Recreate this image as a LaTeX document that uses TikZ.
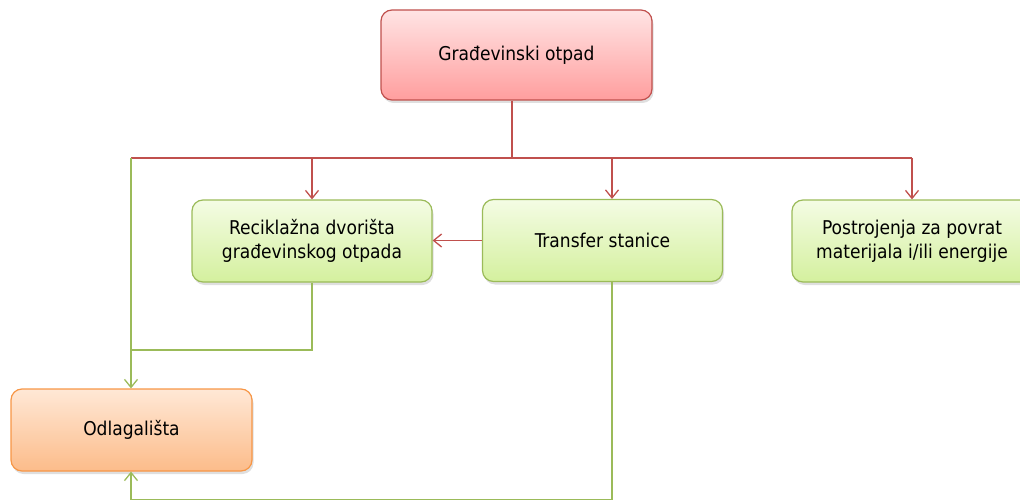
\documentclass[tikz,border=0pt]{standalone}
\usepackage{fontspec}
\setmainfont{DejaVu Sans Condensed}
\usetikzlibrary{arrows.meta,shadows,calc}
\definecolor{redline}{RGB}{192,80,77}
\definecolor{greenline}{RGB}{155,187,89}
\definecolor{orangeline}{RGB}{247,150,70}
\definecolor{redtop}{RGB}{255,228,228}
\definecolor{redbot}{RGB}{255,158,158}
\definecolor{greentop}{RGB}{244,252,228}
\definecolor{greenbot}{RGB}{212,240,158}
\definecolor{orangetop}{RGB}{255,232,214}
\definecolor{orangebot}{RGB}{252,188,138}
\tikzset{
  boxbase/.style={rounded corners=11pt, line width=1.2pt, align=center, font=\fontsize{19}{24}\selectfont, text=black,
    drop shadow={opacity=0.25, shadow xshift=1.5pt, shadow yshift=-3pt}},
  redbox/.style={boxbase, draw=redline, top color=redtop, bottom color=redbot, minimum width=271pt, minimum height=90pt},
  greenbox/.style={boxbase, draw=greenline, top color=greentop, bottom color=greenbot, minimum width=240pt, minimum height=82pt},
  orangebox/.style={boxbase, draw=orangeline, top color=orangetop, bottom color=orangebot, minimum width=241pt, minimum height=82pt},
  redarrow/.style={draw=redline, line width=1.3pt, -{Straight Barb[length=8pt,width=13pt]}},
  redconn/.style={draw=redline, line width=1.3pt},
  greenarrow/.style={draw=greenline, line width=1.3pt, -{Straight Barb[length=8pt,width=13pt]}},
}
\begin{document}
\begin{tikzpicture}[x=1pt,y=-1pt]
\useasboundingbox (0,0) rectangle (1020,500);
\clip (0,0) rectangle (1020,500);
\node[redbox] (gr) at (516.5,55) {Građevinski otpad};
\node[greenbox] (rd) at (312,241) {Reciklažna dvorišta\\građevinskog otpada};
\node[greenbox] (ts) at (602.5,240.5) {Transfer stanice};
\node[greenbox] (pp) at (912,241) {Postrojenja za povrat\\materijala i/ili energije};
\node[orangebox] (od) at (131.5,430) {Odlagališta};
\coordinate (j) at (512,158);
\coordinate (jl) at (131,158);
\coordinate (gd) at (312,350);
\coordinate (tb) at (612,499.8);
\coordinate (tl) at (131,499.8);
% red connectors
\draw[redconn] (gr.south -| j) -- (j);
\draw[redconn] (jl) -- (912,158);
\draw[redarrow] (312,158) -- (rd.north);
\draw[redarrow] (612,158) -- (ts.north -| 612,0);
\draw[redarrow] (912,158) -- (pp.north);
\draw[redarrow] (ts.west) -- (rd.east |- ts.west);
% green connectors
\draw[greenarrow] (jl) -- (od.north -| jl);
\draw[greenline, line width=1.3pt] (rd.south) -- (gd) -- (gd -| jl);
\draw[greenarrow] (ts.south -| tb) -- (tb) -- (tl) -- (od.south -| tl);
\end{tikzpicture}
\end{document}
